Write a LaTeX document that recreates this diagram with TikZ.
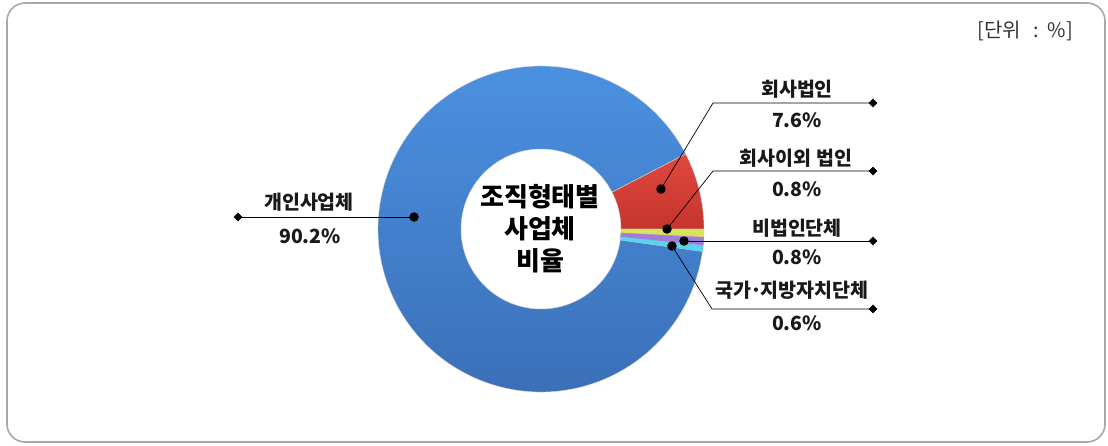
\documentclass[tikz,border=0pt]{standalone}
\usepackage{fontspec}
\setmainfont{Noto Sans CJK KR}
\usetikzlibrary{shapes.geometric}
\definecolor{blueA}{HTML}{4C93E2}
\definecolor{blueB}{HTML}{3A6DB6}
\definecolor{redA}{HTML}{E0483F}
\definecolor{redB}{HTML}{C4352D}
\definecolor{yelA}{HTML}{D6E35E}
\definecolor{purA}{HTML}{A37BDB}
\definecolor{cyaA}{HTML}{5CD3E8}
\definecolor{frame}{HTML}{A8A8A8}
\pgfdeclarelayer{bg}
\pgfdeclarelayer{mid}
\pgfsetlayers{bg,mid,main}
\begin{document}
\begin{tikzpicture}[x=1pt,y=-1pt,
  lbl/.style={font=\bfseries\fontsize{19.5}{19.5}\selectfont, text=black!90, inner sep=0pt, anchor=center},
  dotm/.style={circle, fill=black, minimum size=9.5pt, inner sep=0pt},
  tipm/.style={diamond, fill=black, minimum size=9pt, inner sep=0pt},
  lead/.style={draw=black, line width=0.7pt},
  seg/.style={draw=white!70!gray, line width=0.4pt}]
\useasboundingbox (0,0) rectangle (1108,445);
\draw[frame, line width=1.6pt, rounded corners=18pt] (7,3) rectangle (1105,442);
\node[font=\fontsize{20}{20}\selectfont, text=black!80, anchor=east, inner sep=0pt] (unit) at (1073,31) {[단위\hspace{0.6em}:\hspace{0.45em}\%]};
% donut
\begin{pgfonlayer}{bg}
\begin{scope}[shift={(541,229)}]
\shade[seg, top color=blueA, bottom color=blueB] (27.4:163pt) arc[start angle=27.4, end angle=352.1, radius=163pt] -- (352.1:80pt) arc[start angle=352.1, end angle=27.4, radius=80pt] -- cycle;
\shade[seg, top color=redA, bottom color=redB] (27.4:163pt) arc[start angle=27.4, end angle=0, radius=163pt] -- (0:80pt) arc[start angle=0, end angle=27.4, radius=80pt] -- cycle;
\fill[seg, yelA] (0:163pt) arc[start angle=0, end angle=-2.9, radius=163pt] -- (-2.9:80pt) arc[start angle=-2.9, end angle=0, radius=80pt] -- cycle;
\fill[seg, purA] (-2.9:163pt) arc[start angle=-2.9, end angle=-5.8, radius=163pt] -- (-5.8:80pt) arc[start angle=-5.8, end angle=-2.9, radius=80pt] -- cycle;
\fill[seg, cyaA] (-5.8:163pt) arc[start angle=-5.8, end angle=-7.9, radius=163pt] -- (-7.9:80pt) arc[start angle=-7.9, end angle=-5.8, radius=80pt] -- cycle;
\end{scope}
\end{pgfonlayer}
\node[font=\bfseries\fontsize{26}{32}\selectfont, align=center, inner sep=0pt] (title) at (540,229) {조직형태별\\사업체\\비율};
% labels
\node[lbl] (l1) at (309,202) {개인사업체};
\node[lbl] (v1) at (310,236) {90.2\%};
\node[lbl] (l2) at (797,89) {회사법인};
\node[lbl] (v2) at (797,120) {7.6\%};
\node[lbl] (l3) at (796,158) {회사이외 법인};
\node[lbl] (v3) at (797,189) {0.8\%};
\node[lbl] (l4) at (797,228) {비법인단체};
\node[lbl] (v4) at (797,257) {0.8\%};
\node[lbl] (l5) at (792,290) {국가\kern-0.08em·\kern-0.08em지방자치단체};
\node[lbl] (v5) at (797,323) {0.6\%};
% markers
\node[dotm] (m1) at (414,217) {};
\node[dotm] (m2) at (661,189) {};
\node[dotm] (m3) at (667,229) {};
\node[dotm] (m4) at (684,241) {};
\node[dotm] (m5) at (672,246) {};
\node[tipm] (t1) at (238,217) {};
\node[tipm] (t2) at (873,103) {};
\node[tipm] (t3) at (873,171) {};
\node[tipm] (t4) at (873,241) {};
\node[tipm] (t5) at (873,309) {};
\coordinate (b2) at (713,103);
\coordinate (b3) at (713,171);
\coordinate (b5) at (712,309);
\begin{pgfonlayer}{mid}
\draw[lead] (t1.center) -- (m1.center);
\draw[lead] (t2.center) -- (b2) -- (m2.center);
\draw[lead] (t3.center) -- (b3) -- (m3.center);
\draw[lead] (t4.center) -- (m4.center);
\draw[lead] (t5.center) -- (b5) -- (m5.center);
\end{pgfonlayer}
\end{tikzpicture}
\end{document}
